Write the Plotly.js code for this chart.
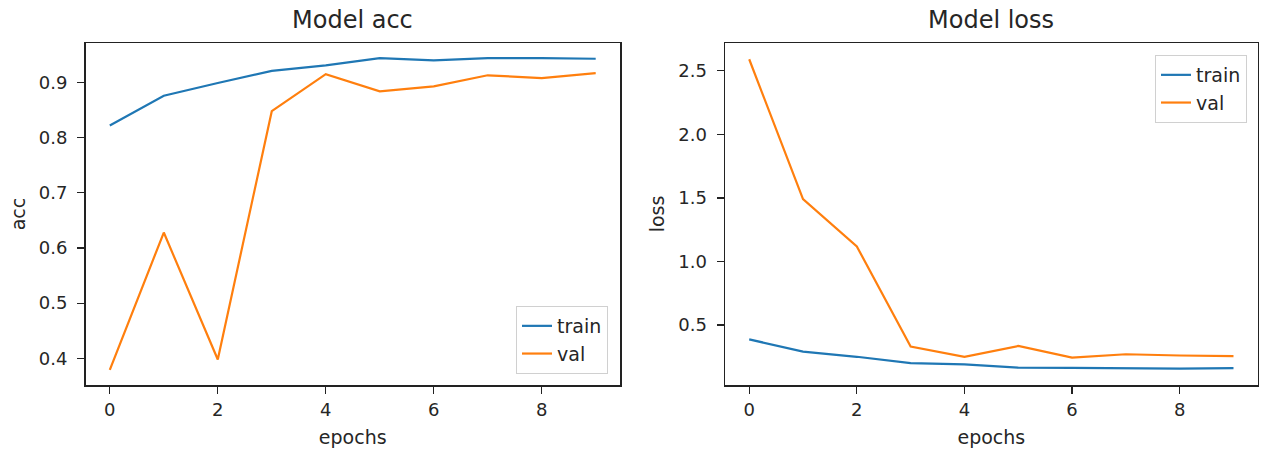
<!DOCTYPE html>
<html>
<head>
<meta charset="utf-8">
<script src="https://cdn.plot.ly/plotly-3.0.1.min.js"></script>
<style>html,body{margin:0;padding:0;background:#fff;}</style>
</head>
<body>
<div id="chart" style="width:1262px;height:450px;"></div>
<script>
// Data
const epochs = [0, 1, 2, 3, 4, 5, 6, 7, 8, 9];
const accTrain = [0.822, 0.876, 0.899, 0.921, 0.931, 0.944, 0.940, 0.944, 0.944, 0.943];
const accVal = [0.379, 0.628, 0.398, 0.848, 0.915, 0.884, 0.893, 0.913, 0.908, 0.917];
const lossTrain = [0.387, 0.290, 0.250, 0.200, 0.190, 0.164, 0.162, 0.159, 0.157, 0.160];
const lossVal = [2.59, 1.49, 1.118, 0.330, 0.250, 0.335, 0.243, 0.270, 0.260, 0.255];
const xTicks = [0, 2, 4, 6, 8];
const accTicks = [0.4, 0.5, 0.6, 0.7, 0.8, 0.9];
const lossTicks = [0.5, 1.0, 1.5, 2.0, 2.5];
const seriesNames = ['train', 'val'];
const titles = ['Model acc', 'Model loss'];

const blue = '#1f77b4', orange = '#ff7f0e';
const W = 1262, H = 450;
const FONT = 'DejaVu Sans, sans-serif';
const txt = '#262626';

const traces = [
  {x: epochs, y: accTrain, name: seriesNames[0], type: 'scatter', mode: 'lines', line: {color: blue, width: 2.2}, xaxis: 'x', yaxis: 'y', legend: 'legend'},
  {x: epochs, y: accVal, name: seriesNames[1], type: 'scatter', mode: 'lines', line: {color: orange, width: 2.2}, xaxis: 'x', yaxis: 'y', legend: 'legend'},
  {x: epochs, y: lossTrain, name: seriesNames[0], type: 'scatter', mode: 'lines', line: {color: blue, width: 2.2}, xaxis: 'x2', yaxis: 'y2', legend: 'legend2'},
  {x: epochs, y: lossVal, name: seriesNames[1], type: 'scatter', mode: 'lines', line: {color: orange, width: 2.2}, xaxis: 'x2', yaxis: 'y2', legend: 'legend2'}
];

const yDom = [1 - 385 / H, 1 - 43 / H];
function xAxis(dom, anchor) {
  return {
    domain: dom, anchor: anchor, range: [-0.45, 9.45],
    tickvals: xTicks, ticks: 'outside', ticklen: 7, tickwidth: 1.3, tickcolor: '#222',
    showline: true, linecolor: '#222', linewidth: 1.5, mirror: true,
    showgrid: false, zeroline: false,
    tickfont: {family: FONT, size: 18, color: txt},
    ticklabelstandoff: 1,
    title: {text: 'epochs', font: {family: FONT, size: 19, color: txt}, standoff: 11}
  };
}
function yAxis(anchor, range, ticks, label) {
  return {
    domain: yDom, anchor: anchor, range: range,
    tickvals: ticks, tickformat: '.1f', ticks: 'outside', ticklen: 7, tickwidth: 1.3, tickcolor: '#222',
    showline: true, linecolor: '#222', linewidth: 1.5, mirror: true,
    showgrid: false, zeroline: false,
    tickfont: {family: FONT, size: 18, color: txt},
    ticklabelstandoff: 6,
    title: {text: label, font: {family: FONT, size: 19, color: txt}, standoff: 8}
  };
}

const legendStyle = {
  font: {family: FONT, size: 19, color: txt},
  bgcolor: 'rgba(255,255,255,0.8)', bordercolor: '#d0d0d0', borderwidth: 1
};

const layout = {
  width: W, height: H, autosize: false,
  margin: {l: 0, r: 0, t: 0, b: 0},
  paper_bgcolor: '#fff', plot_bgcolor: '#fff',
  font: {family: FONT},
  xaxis: xAxis([85.5 / W, 620 / W], 'y'),
  yaxis: yAxis('x', [0.3517, 0.9715], accTicks, 'acc'),
  xaxis2: xAxis([725 / W, 1257.7 / W], 'y2'),
  yaxis2: yAxis('x2', [0.028, 2.718], lossTicks, 'loss'),
  legend: Object.assign({x: 608 / W, y: 1 - 374 / H, xanchor: 'right', yanchor: 'bottom'}, legendStyle),
  legend2: Object.assign({x: 1247 / W, y: 1 - 55 / H, xanchor: 'right', yanchor: 'top'}, legendStyle),
  annotations: [
    {text: titles[0], x: 352.75 / W, y: 1 - 20 / H, xref: 'paper', yref: 'paper', xanchor: 'center', yanchor: 'middle', showarrow: false, font: {family: FONT, size: 24, color: txt}},
    {text: titles[1], x: 991.3 / W, y: 1 - 20 / H, xref: 'paper', yref: 'paper', xanchor: 'center', yanchor: 'middle', showarrow: false, font: {family: FONT, size: 24, color: txt}}
  ],
  showlegend: true
};

Plotly.newPlot('chart', traces, layout, {displayModeBar: false, staticPlot: true});
</script>
</body>
</html>
